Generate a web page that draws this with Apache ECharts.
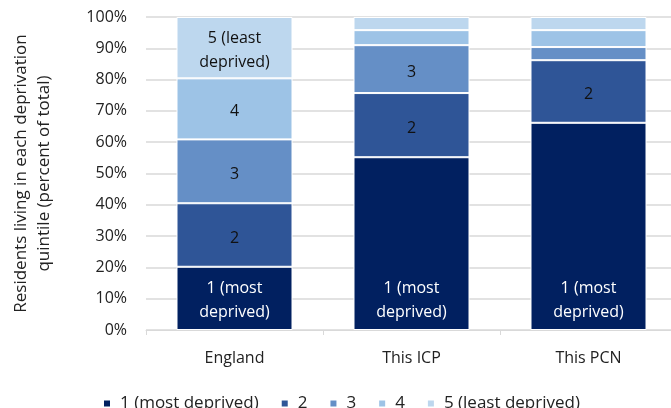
<!DOCTYPE html>
<html>
<head>
<meta charset="utf-8">
<script src="https://cdn.jsdelivr.net/npm/echarts@6/dist/echarts.min.js"></script>
<style>
  html, body { margin: 0; padding: 0; background: #fff; }
  #chart { width: 671px; height: 408px; }
</style>
</head>
<body>
<div id="chart"></div>
<script>
// Share of residents living in each deprivation quintile (percent of total)
const categories = ['England', 'This ICP', 'This PCN'];
const quintileNames = ['1 (most deprived)', '2', '3', '4', '5 (least deprived)'];
const segmentText = ['1 (most\ndeprived)', '2', '3', '4', '5 (least\ndeprived)'];
const q1 = [20.2, 55.2, 66.2];
const q2 = [20.3, 20.5, 20.0];
const q3 = [20.4, 15.3, 4.2];
const q4 = [19.5, 4.8, 5.4];
const q5 = [19.6, 4.2, 4.2];
const yTicks = [0, 10, 20, 30, 40, 50, 60, 70, 80, 90, 100];

const colors = ['#012060', '#2f5597', '#658fc6', '#9dc3e6', '#bdd7ee'];
const FONT = '"Open Sans", Lato, sans-serif';
const quintiles = [q1, q2, q3, q4, q5];

const series = quintiles.map((vals, i) => ({
  name: quintileNames[i],
  type: 'bar',
  stack: 'total',
  barWidth: 116,
  itemStyle: { color: colors[i], borderColor: '#ffffff', borderWidth: 1 },
  label: {
    show: true,
    position: i === 0 ? 'insideBottom' : 'inside',
    distance: 6,
    offset: i === 0 ? [0, 0] : [0, 3],
    formatter: () => segmentText[i],
    color: i === 0 ? '#ffffff' : '#111111',
    fontFamily: FONT,
    fontSize: 16,
    lineHeight: 24
  },
  data: vals.map(v => ({ value: v, label: { show: v >= 10 } }))
}));

const chart = echarts.init(document.getElementById('chart'), null, { renderer: 'canvas' });
chart.setOption({
  animation: false,
  color: colors,
  grid: { left: 146, width: 531, top: 17, height: 313, outerBoundsMode: 'none', containLabel: false },
  legend: {
    data: quintileNames,
    left: 97,
    top: 390,
    icon: 'rect',
    itemWidth: 8,
    itemHeight: 8,
    itemGap: 21,
    textStyle: { fontFamily: FONT, fontSize: 17, color: '#222', padding: [0, 0, 0, 4] }
  },
  xAxis: {
    type: 'category',
    data: categories,
    axisLine: { lineStyle: { color: '#d9d9d9', width: 1 } },
    axisTick: { show: true, length: 5, lineStyle: { color: '#d9d9d9' } },
    axisLabel: { fontFamily: FONT, fontSize: 16, color: '#222', margin: 20 }
  },
  yAxis: {
    type: 'value',
    min: yTicks[0],
    max: yTicks[yTicks.length - 1],
    interval: 10,
    name: 'Residents living in each deprivation\nquintile (percent of total)',
    nameLocation: 'middle',
    nameGap: 90,
    nameTextStyle: { fontFamily: FONT, fontSize: 17, color: '#222', lineHeight: 23 },
    axisLine: { show: false },
    axisTick: { show: false },
    axisLabel: { fontFamily: FONT, fontSize: 16, color: '#222', margin: 19, formatter: v => v + '%' },
    splitLine: { lineStyle: { color: '#d9d9d9', width: 1.5 } }
  },
  series: series
});
</script>
</body>
</html>
